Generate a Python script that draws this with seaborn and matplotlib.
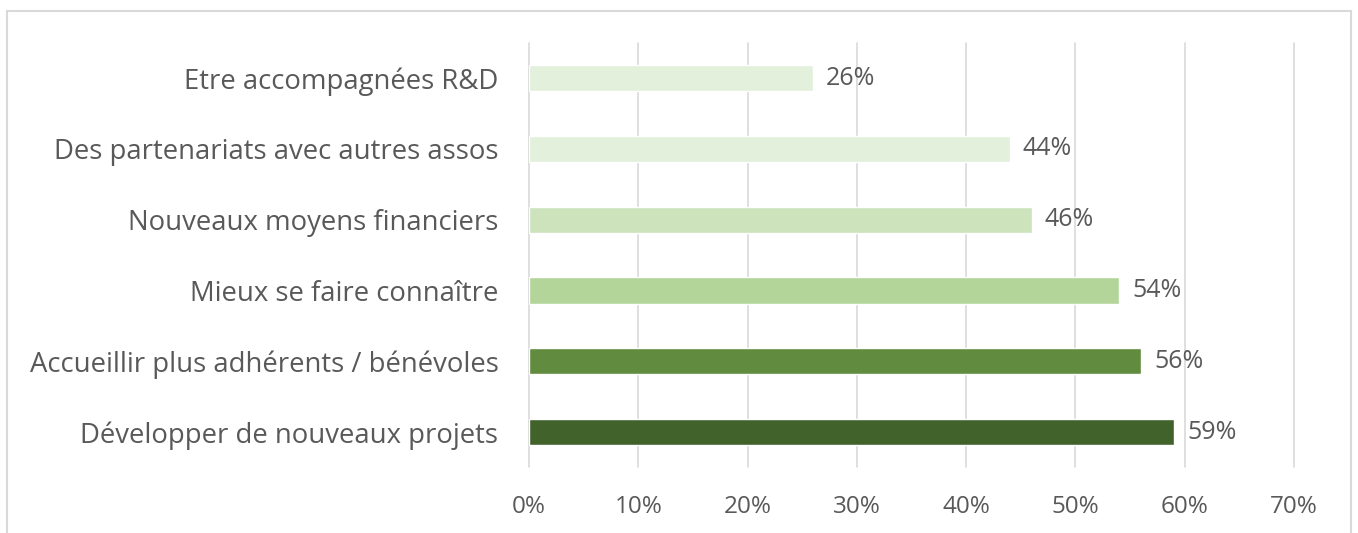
import pandas as pd
import matplotlib.pyplot as plt
import seaborn as sns
from matplotlib.lines import Line2D

# --- DATA ---
categories = [
    "Etre accompagnées R&D",
    "Des partenariats avec autres assos",
    "Nouveaux moyens financiers",
    "Mieux se faire connaître",
    "Accueillir plus adhérents / bénévoles",
    "Développer de nouveaux projets",
]
values = [26, 44, 46, 54, 56, 59]
bar_colors = ["#E3F0DC", "#E3F0DC", "#CCE3BC", "#B3D59A", "#618C3F", "#42622C"]
x_ticks = [0, 10, 20, 30, 40, 50, 60, 70]

TEXT_GREY = "#595959"

df = pd.DataFrame({"category": categories, "value": values})

sns.set_theme(style="white")
plt.rcParams["font.family"] = ["Open Sans", "DejaVu Sans"]

fig = plt.figure(figsize=(13.58, 5.33), dpi=100)
ax = fig.add_axes([0.3895, 0.123, 0.9529 - 0.3895, 0.920 - 0.123])

sns.barplot(
    data=df, x="value", y="category", hue="category",
    palette=bar_colors, orient="h", width=0.37, legend=False, ax=ax,
    saturation=1,
)

ax.set_xlim(0, 70)
ax.set_ylim(5.5, -0.5)
ax.set_xticks(x_ticks)
ax.set_xticklabels([f"{t}%" for t in x_ticks], fontsize=17.5, color=TEXT_GREY)
ax.tick_params(axis="x", length=0, pad=20)
ax.tick_params(axis="y", length=0, pad=22)
for lbl in ax.get_yticklabels():
    lbl.set_fontsize(19.8)
    lbl.set_color(TEXT_GREY)
ax.set_xlabel("")
ax.set_ylabel("")

ax.grid(axis="x", color="#D9D9D9", linewidth=1.2)
ax.set_axisbelow(True)
for gl in ax.get_xgridlines():
    gl.set_clip_on(False)
for side in ["top", "right", "bottom", "left"]:
    ax.spines[side].set_visible(False)

# value labels
for i, v in enumerate(values):
    ax.text(v + 1.2, i, f"{v}%", va="center", ha="left", fontsize=18, color=TEXT_GREY)

# outer chart frame (left, top, right; bottom is cropped off)
frame_kw = dict(color="#D9D9D9", linewidth=1.5, transform=fig.transFigure)
fig.add_artist(Line2D([0.0055, 0.0055], [0.0, 0.979], **frame_kw))
fig.add_artist(Line2D([0.0055, 0.9945], [0.979, 0.979], **frame_kw))
fig.add_artist(Line2D([0.9945, 0.9945], [0.0, 0.979], **frame_kw))

fig.savefig("out.png", dpi=100)
